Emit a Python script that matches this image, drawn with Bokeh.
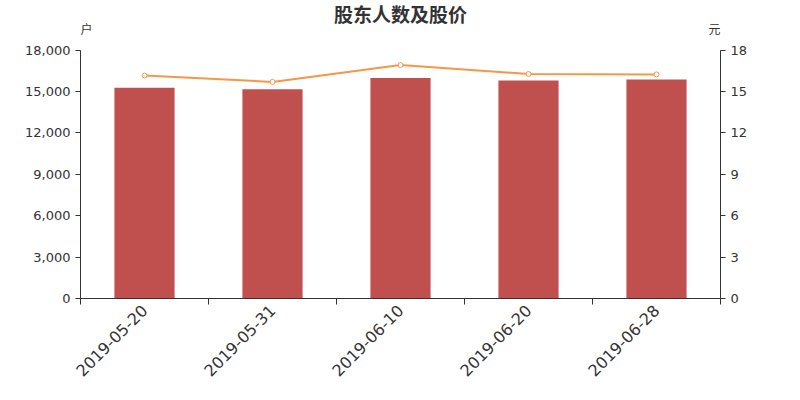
import math
from bokeh.plotting import figure
from bokeh.models import (Range1d, LinearAxis, FixedTicker, NumeralTickFormatter,
                          Label, ColumnDataSource)
from bokeh.embed import file_html
from bokeh.resources import INLINE

dates = ["2019-05-20", "2019-05-31", "2019-06-10", "2019-06-20", "2019-06-28"]
holders = [15280, 15160, 15980, 15800, 15880]
prices = [16.16, 15.70, 16.92, 16.27, 16.24]
left_ticks = [0, 3000, 6000, 9000, 12000, 15000, 18000]
right_ticks = [0, 3, 6, 9, 12, 15, 18]
left_max, right_max = 18000, 18

xs = list(range(len(dates)))
src = ColumnDataSource(dict(x=xs, h=holders, p=prices))

FONT = "DejaVu Sans"
TXT = "#333333"
HEADROOM = 1.2  # frame extends above axis top to host title / unit labels

p = figure(width=784, height=384, x_range=Range1d(-0.5, len(dates) - 0.5),
           y_range=Range1d(0, left_max * HEADROOM), output_backend="svg",
           toolbar_location=None,
           min_border_left=80, min_border_right=64, min_border_top=0,
           min_border_bottom=84)
p.outline_line_color = None
p.xgrid.visible = False
p.ygrid.visible = False
p.background_fill_color = "white"
p.border_fill_color = "white"

p.extra_y_ranges = {"price": Range1d(0, right_max * HEADROOM)}

p.vbar(x="x", top="h", width=0.47, fill_color="#c0504d", line_color=None, source=src)
p.line("x", "p", y_range_name="price", line_color="#f79646", line_width=2, source=src)
p.scatter("x", "p", y_range_name="price", size=5, fill_color="white",
          line_color="#f79646", line_width=1, source=src)

# x axis
xa = p.xaxis[0]
xa.ticker = FixedTicker(ticks=xs, minor_ticks=[i - 0.5 for i in range(len(dates) + 1)])
xa.major_label_overrides = {i: d for i, d in enumerate(dates)}
xa.major_tick_out = 0
xa.major_tick_in = 0
xa.minor_tick_out = 6
xa.minor_tick_in = 0
xa.minor_tick_line_color = TXT
xa.axis_line_color = TXT
xa.major_label_orientation = math.pi / 4
xa.major_label_standoff = 3
xa.major_label_text_font = FONT
xa.major_label_text_font_size = "16px"
xa.major_label_text_color = TXT

# left axis
ya = p.yaxis[0]
ya.ticker = FixedTicker(ticks=left_ticks)
ya.bounds = (0, left_max)
ya.formatter = NumeralTickFormatter(format="0,0")
ya.minor_tick_line_color = None
ya.major_tick_out = 5
ya.major_tick_in = 0
ya.axis_line_color = TXT
ya.major_tick_line_color = TXT
ya.major_label_text_font = FONT
ya.major_label_text_font_size = "13px"
ya.major_label_text_color = TXT

# right axis
ra = LinearAxis(y_range_name="price", ticker=FixedTicker(ticks=right_ticks),
                bounds=(0, right_max))
ra.minor_tick_line_color = None
ra.major_tick_out = 5
ra.major_tick_in = 0
ra.axis_line_color = TXT
ra.major_tick_line_color = TXT
ra.major_label_text_font = FONT
ra.major_label_text_font_size = "13px"
ra.major_label_text_color = TXT
p.add_layout(ra, "right")

# title / unit labels (placed in the headroom above the axes)
p.add_layout(Label(x=2.0, y=left_max * 1.146, text="股东人数及股价",
                   text_align="center", text_baseline="middle",
                   text_font="Noto Sans CJK SC", text_font_style="bold",
                   text_font_size="19px", text_color=TXT))
p.add_layout(Label(x=-0.5, y=left_max * 1.087, text="户",
                   text_align="left", text_baseline="middle",
                   text_font="Noto Sans CJK SC", text_font_size="12px",
                   text_color=TXT))
p.add_layout(Label(x=len(dates) - 0.5, y=left_max * 1.087, text="元",
                   text_align="right", text_baseline="middle",
                   text_font="Noto Sans CJK SC", text_font_size="12px",
                   text_color=TXT))

open("out.html", "w").write(file_html(p, INLINE))
